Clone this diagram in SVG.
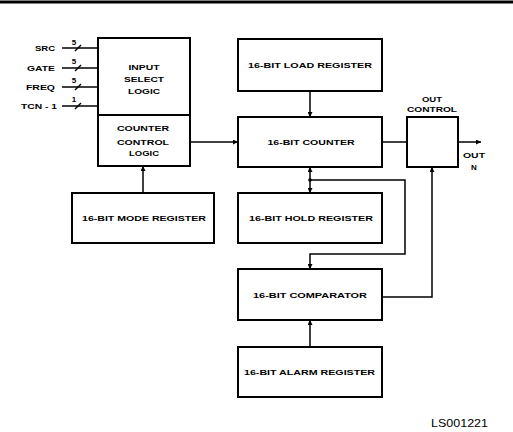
<svg xmlns="http://www.w3.org/2000/svg" width="513" height="432" viewBox="0 0 513 432">
<style>
.box{fill:#fff;stroke:#000;stroke-width:2}
.ln{fill:none;stroke:#000;stroke-width:1.5}
.t{font-family:"Liberation Sans",Arial,sans-serif;font-weight:bold;font-size:8px;fill:#000}
.m{text-anchor:middle}
.e{text-anchor:end}
</style>
<defs>
<marker id="ah" viewBox="0 0 8 8" refX="8" refY="4" markerWidth="5" markerHeight="5" orient="auto" markerUnits="userSpaceOnUse">
<path d="M0,0 L8,4 L0,8 z" fill="#000"/>
</marker>
</defs>
<rect width="513" height="432" fill="#fff"/>
<line x1="0" y1="2" x2="513" y2="2" stroke="#000" stroke-width="3"/>

<g id="input-select">
<rect class="box" x="98" y="38" width="92" height="77"/>
<text class="t m" x="144" y="70" textLength="31" lengthAdjust="spacingAndGlyphs">INPUT</text>
<text class="t m" x="144" y="82" textLength="40" lengthAdjust="spacingAndGlyphs">SELECT</text>
<text class="t m" x="144" y="94" textLength="32" lengthAdjust="spacingAndGlyphs">LOGIC</text>
</g>
<g id="counter-control">
<rect class="box" x="98" y="115" width="92" height="51"/>
<text class="t m" x="143" y="131" textLength="52" lengthAdjust="spacingAndGlyphs">COUNTER</text>
<text class="t m" x="143" y="145" textLength="52" lengthAdjust="spacingAndGlyphs">CONTROL</text>
<text class="t m" x="144" y="156" textLength="30" lengthAdjust="spacingAndGlyphs">LOGIC</text>
</g>
<g id="load-register">
<rect class="box" x="238" y="39" width="144" height="52"/>
<text class="t m" x="310" y="68" textLength="124" lengthAdjust="spacingAndGlyphs">16-BIT LOAD REGISTER</text>
</g>
<g id="counter">
<rect class="box" x="238" y="117" width="144" height="50"/>
<text class="t m" x="311" y="145" textLength="87" lengthAdjust="spacingAndGlyphs">16-BIT COUNTER</text>
</g>
<g id="out-control">
<rect class="box" x="407" y="117" width="51" height="50"/>
<text class="t m" x="432" y="102" textLength="20" lengthAdjust="spacingAndGlyphs">OUT</text>
<text class="t m" x="432" y="112" textLength="50" lengthAdjust="spacingAndGlyphs">CONTROL</text>
</g>
<g id="mode-register">
<rect class="box" x="72" y="193" width="142" height="50"/>
<text class="t m" x="144" y="221" textLength="124" lengthAdjust="spacingAndGlyphs">16-BIT MODE REGISTER</text>
</g>
<g id="hold-register">
<rect class="box" x="238" y="193" width="144" height="50"/>
<text class="t m" x="311" y="221" textLength="124" lengthAdjust="spacingAndGlyphs">16-BIT HOLD REGISTER</text>
</g>
<g id="comparator">
<rect class="box" x="238" y="269" width="144" height="51"/>
<text class="t m" x="310" y="298" textLength="114" lengthAdjust="spacingAndGlyphs">16-BIT COMPARATOR</text>
</g>
<g id="alarm-register">
<rect class="box" x="238" y="347" width="144" height="50"/>
<text class="t m" x="309.5" y="375" textLength="131" lengthAdjust="spacingAndGlyphs">16-BIT ALARM REGISTER</text>
</g>

<g id="inputs">
<text class="t e" x="55" y="51" textLength="20" lengthAdjust="spacingAndGlyphs">SRC</text>
<text class="t e" x="55" y="71" textLength="28" lengthAdjust="spacingAndGlyphs">GATE</text>
<text class="t e" x="55" y="90" textLength="29" lengthAdjust="spacingAndGlyphs">FREQ</text>
<text class="t e" x="57" y="109" textLength="36" lengthAdjust="spacingAndGlyphs">TCN - 1</text>
<text class="t m" x="74" y="45">5</text>
<text class="t m" x="74" y="64">5</text>
<text class="t m" x="74" y="83">5</text>
<text class="t m" x="74" y="102">1</text>
</g>

<g id="connectors">
<line class="ln" x1="62" y1="48" x2="98" y2="48"/>
<line class="ln" x1="62" y1="68" x2="98" y2="68"/>
<line class="ln" x1="62" y1="87" x2="98" y2="87"/>
<line class="ln" x1="62" y1="106" x2="98" y2="106"/>
<line class="ln" x1="75" y1="51" x2="81" y2="45"/>
<line class="ln" x1="75" y1="71" x2="81" y2="65"/>
<line class="ln" x1="75" y1="90" x2="81" y2="84"/>
<line class="ln" x1="75" y1="109" x2="81" y2="103"/>

<line class="ln" x1="190" y1="142" x2="238" y2="142" marker-end="url(#ah)"/>
<line class="ln" x1="310" y1="91" x2="310" y2="117" marker-end="url(#ah)"/>
<line class="ln" x1="382" y1="142" x2="407" y2="142"/>
<line class="ln" x1="458" y1="142" x2="481" y2="142" marker-end="url(#ah)"/>
<line class="ln" x1="143" y1="193" x2="143" y2="166" marker-end="url(#ah)"/>
<line class="ln" x1="310" y1="180" x2="310" y2="167" marker-end="url(#ah)"/>
<line class="ln" x1="310" y1="180" x2="310" y2="193" marker-end="url(#ah)"/>
<circle cx="310" cy="180" r="1.8" fill="#000"/>
<polyline class="ln" points="310,180 405,180 405,254 310,254 310,269" marker-end="url(#ah)"/>
<line class="ln" x1="310" y1="347" x2="310" y2="320" marker-end="url(#ah)"/>
<polyline class="ln" points="382,297 432,297 432,167" marker-end="url(#ah)"/>
</g>

<text class="t" x="463" y="158" textLength="22" lengthAdjust="spacingAndGlyphs">OUT</text>
<text class="t" x="471" y="169.5" font-size="6">N</text>
<text x="431" y="427" font-family="'Liberation Sans',Arial,sans-serif" font-size="10.5" textLength="57" lengthAdjust="spacingAndGlyphs">LS001221</text>
</svg>
